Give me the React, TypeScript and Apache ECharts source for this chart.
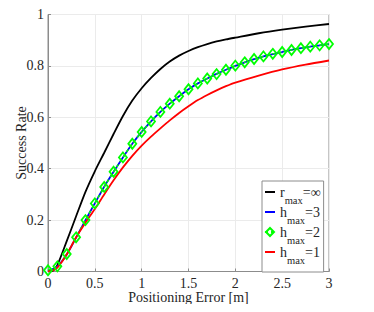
import React, { useEffect, useRef } from "react";
import * as echarts from "echarts";

const xTicks = [0, 0.5, 1, 1.5, 2, 2.5, 3];
const yTicks = [0, 0.2, 0.4, 0.6, 0.8, 1];

const xBlack = [0, 0.05, 0.1, 0.2, 0.3, 0.4, 0.5, 0.6, 0.7, 0.8, 0.9, 1.0, 1.1, 1.2, 1.3, 1.4, 1.5, 1.6, 1.7, 1.8, 1.9, 2.0, 2.25, 2.5, 2.75, 3.0];
const yBlack = [0, 0.002, 0.025, 0.118, 0.215, 0.31, 0.39, 0.462, 0.535, 0.605, 0.665, 0.713, 0.753, 0.788, 0.817, 0.84, 0.858, 0.873, 0.885, 0.895, 0.903, 0.91, 0.927, 0.941, 0.953, 0.963];

const xH = [0, 0.1, 0.2, 0.3, 0.4, 0.5, 0.6, 0.7, 0.8, 0.9, 1.0, 1.1, 1.2, 1.3, 1.4, 1.5, 1.6, 1.7, 1.8, 1.9, 2.0, 2.1, 2.2, 2.3, 2.4, 2.5, 2.6, 2.7, 2.8, 2.9, 3.0];
const yH3 = [0.002, 0.02, 0.066, 0.132, 0.2, 0.265, 0.33, 0.388, 0.444, 0.497, 0.543, 0.584, 0.621, 0.653, 0.682, 0.709, 0.732, 0.751, 0.769, 0.785, 0.8, 0.814, 0.826, 0.837, 0.846, 0.854, 0.862, 0.869, 0.875, 0.88, 0.885];
const yH2 = [0.005, 0.02, 0.068, 0.133, 0.2, 0.265, 0.329, 0.388, 0.444, 0.497, 0.543, 0.584, 0.621, 0.653, 0.682, 0.709, 0.732, 0.751, 0.768, 0.785, 0.801, 0.814, 0.827, 0.837, 0.847, 0.854, 0.862, 0.869, 0.875, 0.88, 0.885];

const xRed = [0, 0.05, 0.1, 0.2, 0.3, 0.4, 0.5, 0.6, 0.7, 0.8, 0.9, 1.0, 1.1, 1.2, 1.3, 1.4, 1.5, 1.6, 1.7, 1.8, 1.9, 2.0, 2.25, 2.5, 2.75, 3.0];
const yRed = [0, 0.004, 0.015, 0.066, 0.133, 0.19, 0.243, 0.3, 0.355, 0.405, 0.45, 0.49, 0.525, 0.557, 0.588, 0.617, 0.643, 0.667, 0.687, 0.705, 0.721, 0.735, 0.762, 0.786, 0.805, 0.821];

const legendLabels: Record<string, [string, string, string]> = {
  rinf: ["r", "max", "=∞"],
  h3: ["h", "max", "=3"],
  h2: ["h", "max", "=2"],
  h1: ["h", "max", "=1"],
};

const pairs = (xs: number[], ys: number[]) => xs.map((x, i) => [x, ys[i]]);

const FONT = "Liberation Serif";
const AXIS = "#8c8c8c";
const TXT = "#262626";

export default function App() {
  const ref = useRef<HTMLDivElement>(null);
  useEffect(() => {
    if (!ref.current) return;
    const chart = echarts.init(ref.current, undefined, { renderer: "svg" });
    const hidden = { opacity: 0, color: "transparent", borderWidth: 0 };
    chart.setOption({
      animation: false,
      backgroundColor: "#fff",
      grid: {
        left: 48,
        right: 45,
        top: 14.5,
        bottom: 40.5,
        show: true,
        borderColor: AXIS,
        borderWidth: 1,
        containLabel: false,
        outerBoundsMode: "none",
      },
      xAxis: {
        type: "value",
        min: 0,
        max: 3,
        interval: 0.5,
        name: "Positioning Error [m]",
        nameLocation: "middle",
        nameGap: 19,
        nameMoveOverlap: false,
        nameTextStyle: { fontFamily: FONT, fontSize: 14, color: TXT },
        axisLine: { show: true, lineStyle: { color: AXIS } },
        axisTick: { show: true, inside: true, length: 3, lineStyle: { color: AXIS } },
        axisLabel: {
          fontFamily: FONT,
          fontSize: 14,
          color: TXT,
          margin: 5,
          formatter: (v: number) => (xTicks.includes(v) ? String(v) : ""),
        },
        splitLine: { show: true, lineStyle: { color: "#ebebeb", width: 1 } },
      },
      yAxis: {
        type: "value",
        min: 0,
        max: 1,
        interval: 0.2,
        name: "Success Rate",
        nameLocation: "middle",
        nameGap: 20,
        nameRotate: 90,
        nameMoveOverlap: false,
        nameTextStyle: { fontFamily: FONT, fontSize: 14, color: TXT },
        axisLine: { show: true, lineStyle: { color: AXIS } },
        axisTick: { show: true, inside: true, length: 3, lineStyle: { color: AXIS } },
        axisLabel: {
          fontFamily: FONT,
          fontSize: 14,
          color: TXT,
          margin: 4,
          formatter: (v: number) => {
            const t = yTicks.find((y) => Math.abs(y - v) < 1e-9);
            return t === undefined ? "" : String(t);
          },
        },
        splitLine: { show: true, lineStyle: { color: "#ebebeb", width: 1 } },
      },
      legend: {
        orient: "vertical",
        left: 262,
        top: 181,
        data: [
          { name: "rinf", itemStyle: hidden },
          { name: "h3", itemStyle: hidden },
          { name: "h2" },
          { name: "h1", itemStyle: hidden },
        ],
        backgroundColor: "#fff",
        borderColor: AXIS,
        borderWidth: 1,
        borderRadius: 0,
        padding: [4, 3, 6, 2],
        itemGap: -1,
        itemWidth: 10,
        itemHeight: 10,
        formatter: (n: string) => {
          const p = legendLabels[n];
          return `{m|${p[0]}}{s|${p[1]}}{m|${p[2]}}`;
        },
        textStyle: {
          fontFamily: FONT,
          color: TXT,
          rich: {
            m: { fontFamily: FONT, fontSize: 14, lineHeight: 14, verticalAlign: "top", color: TXT },
            s: { fontFamily: FONT, fontSize: 10.5, lineHeight: 8, padding: [10, 0, 0, 0], verticalAlign: "top", color: TXT },
          },
        },
      },
      series: [
        {
          name: "rinf",
          type: "line",
          data: pairs(xBlack, yBlack),
          smooth: 0.25,
          symbol: "none",
          lineStyle: { color: "#000", width: 1.8 },
          itemStyle: { color: "#000" },
        },
        {
          name: "h3",
          type: "line",
          data: pairs(xH, yH3),
          smooth: 0.25,
          symbol: "none",
          lineStyle: { color: "#0000ff", width: 1.8 },
          itemStyle: { color: "#0000ff" },
        },
        {
          name: "h2",
          type: "line",
          data: pairs(xH, yH2),
          smooth: 0.25,
          symbol: "diamond",
          symbolSize: [8, 10],
          showSymbol: true,
          showAllSymbol: true,
          lineStyle: { color: "#00ff00", width: 1.5, type: [3, 3] },
          itemStyle: { color: "rgba(255,255,255,0)", borderColor: "#00ff00", borderWidth: 1.8 },
        },
        {
          name: "h1",
          type: "line",
          data: pairs(xRed, yRed),
          smooth: 0.25,
          symbol: "none",
          lineStyle: { color: "#ff0000", width: 1.8 },
          itemStyle: { color: "#ff0000" },
        },
      ],
    });
    return () => chart.dispose();
  }, []);
  return <div ref={ref} style={{ width: 374, height: 312, margin: -8 }} />;
}
